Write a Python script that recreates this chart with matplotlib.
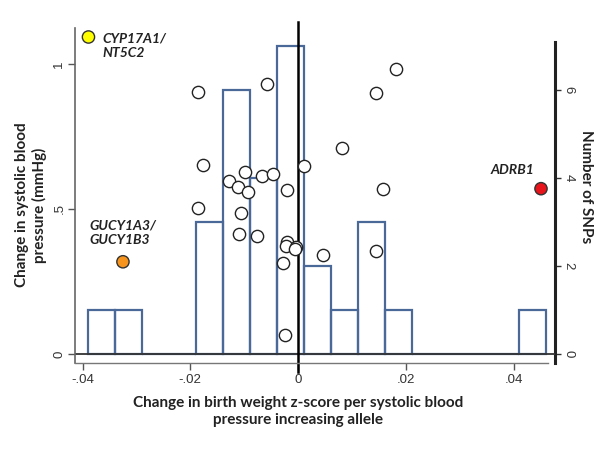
import matplotlib
matplotlib.use('Agg')
import matplotlib.pyplot as plt
import numpy as np

# ---- data ----
snp_x = [-0.0185, -0.0058, 0.0182, 0.0145, 0.0081, -0.0176, -0.0128, -0.0099,
         -0.0112, -0.0092, -0.0067, -0.0046, -0.0020, 0.0012, -0.0185, -0.0105,
         -0.0109, -0.0077, -0.0021, -0.0022, -0.0004, -0.0006, -0.0028, -0.0025,
         0.0047, 0.0145, 0.0157]
snp_y = [0.904, 0.931, 0.982, 0.899, 0.709, 0.652, 0.598, 0.627,
         0.575, 0.558, 0.615, 0.620, 0.566, 0.648, 0.504, 0.485,
         0.413, 0.407, 0.387, 0.373, 0.370, 0.361, 0.315, 0.066,
         0.340, 0.355, 0.568]

gene_labels = ['CYP17A1/\nNT5C2', 'GUCY1A3/\nGUCY1B3', 'ADRB1']
gene_x = [-0.0389, -0.0325, 0.0451]
gene_y = [1.093, 0.318, 0.570]
gene_colors = ['#FFFF00', '#F7941D', '#E8141B']

hist_start = -0.0389
hist_width = 0.005
hist_counts = [1, 1, 0, 0, 3, 6, 4, 7, 2, 1, 3, 1, 0, 0, 0, 0, 1]

x_ticks = [-0.04, -0.02, 0.0, 0.02, 0.04]
x_tick_labels = ['-.04', '-.02', '0', '.02', '.04']
y_ticks = [0.0, 0.5, 1.0]
y_tick_labels = ['0', '.5', '1']
count_ticks = [0, 2, 4, 6]

x_title = 'Change in birth weight z-score per systolic blood\npressure increasing allele'
y_title = 'Change in systolic blood\npressure (mmHg)'
count_title = 'Number of SNPs'

# ---- figure ----
W, H = 601, 451
fig = plt.figure(figsize=(W / 100, H / 100), dpi=100)
ax = fig.add_axes([75 / W, 88 / H, 480 / W, 335 / H])
ax2 = ax.twinx()

tick_font = 'Liberation Sans'
label_font = 'Lato'

# histogram (right axis)
edges = hist_start + hist_width * np.arange(len(hist_counts))
ax2.bar(edges, hist_counts, width=hist_width, align='edge', facecolor='none',
        edgecolor='#4A6898', linewidth=1.6)
ax2.set_ylim(-0.2045, 7.41)
ax2.set_yticks(count_ticks)
ax2.set_yticklabels([str(c) for c in count_ticks], family=tick_font, fontsize=9.5,
                    rotation=-90, va='center', color='#333333')
ax2.tick_params(axis='y', direction='out', length=4, width=1, color='#333333', pad=1.5)
for s in ['left', 'top', 'bottom']:
    ax2.spines[s].set_visible(False)
ax2.spines['right'].set_linewidth(2.2)
ax2.spines['right'].set_color('#222222')
ax2.spines['right'].set_bounds(-0.2045, 7.09)

# scatter (left axis, on top)
ax.set_zorder(ax2.get_zorder() + 1)
ax.patch.set_visible(False)
ax.set_xlim(-0.0414, 0.0477)
ax.set_ylim(-0.031, 1.124)

ax.axhline(0, color='#333333', lw=1.3, zorder=1)
ax.axvline(0, ymin=-0.027, ymax=1.018, color='black', lw=1.8, clip_on=False, zorder=2)

ax.scatter(snp_x, snp_y, s=78, facecolor='white', edgecolor='#222222',
           linewidth=1.0, zorder=3)
ax.scatter(gene_x, gene_y, s=78, facecolor=gene_colors, edgecolor='#333333',
           linewidth=1.0, zorder=4)

label_offsets = [(10, -6), (-24, 21), (-36, 13.5)]
for lab, gx, gy, off in zip(gene_labels, gene_x, gene_y, label_offsets):
    ax.annotate(lab, (gx, gy), xytext=off, textcoords='offset points',
                ha='left', va='center', fontsize=10, family=label_font,
                fontweight='bold', style='italic', color='#222222',
                linespacing=1.25)

ax.set_xticks(x_ticks)
ax.set_xticklabels(x_tick_labels, family=tick_font, fontsize=9.5, color='#333333')
ax.set_yticks(y_ticks)
ax.set_yticklabels(y_tick_labels, family=tick_font, fontsize=9.5, rotation=90,
                   va='center', color='#333333')
ax.tick_params(axis='both', direction='out', length=5, width=1, color='#555555')
ax.tick_params(axis='x', pad=3)
ax.tick_params(axis='y', pad=2)

for s in ['top', 'right']:
    ax.spines[s].set_visible(False)
ax.spines['left'].set_color('#666666')
ax.spines['left'].set_linewidth(1.2)
ax.spines['bottom'].set_color('#777777')
ax.spines['bottom'].set_linewidth(1.0)
ax.spines['bottom'].set_bounds(-0.0414, 0.0464)

fig.text(298 / W, 1 - 411.5 / H, x_title, ha='center', va='center', fontsize=11,
         family=label_font, fontweight='bold', color='#222222', linespacing=1.3)
fig.text(31 / W, 1 - 205 / H, y_title, ha='center', va='center', rotation=90,
         fontsize=11, family=label_font, fontweight='bold', color='#222222',
         linespacing=1.3)
fig.text(586 / W, 1 - 187 / H, count_title, ha='center', va='center', rotation=-90,
         fontsize=11, family=label_font, fontweight='bold', color='#222222')

fig.savefig('out.png', dpi=100, facecolor='white')
